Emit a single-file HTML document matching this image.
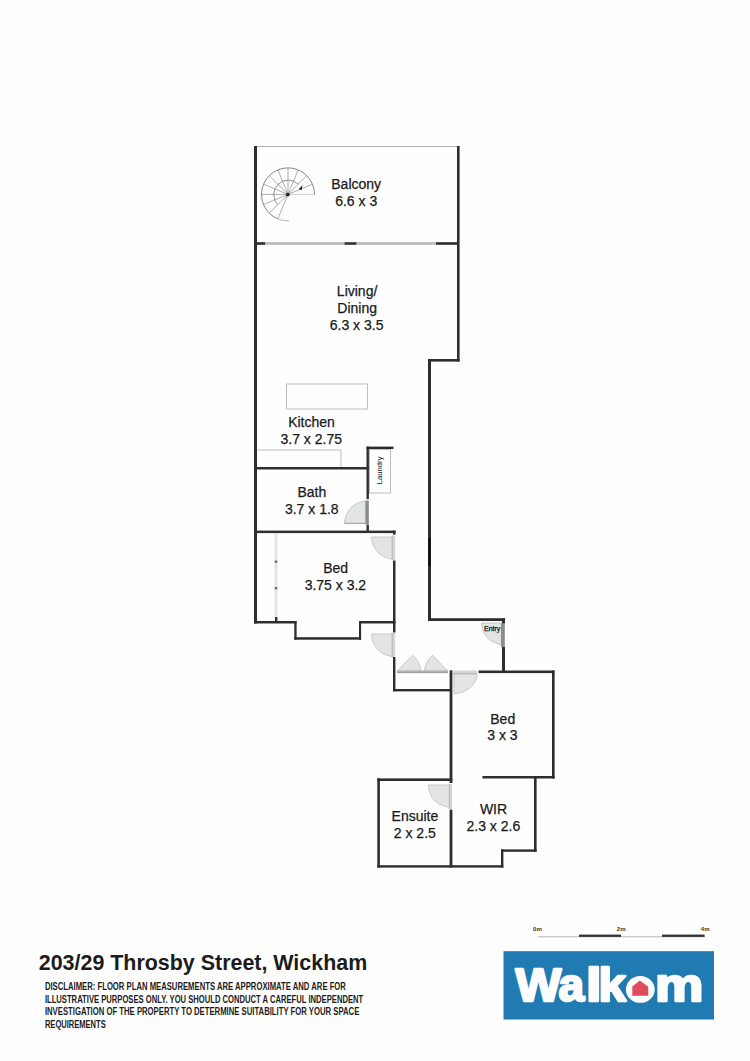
<!DOCTYPE html>
<html><head><meta charset="utf-8"><title>Floor plan</title>
<style>
html,body{margin:0;padding:0;background:#fefefe;}
body{width:750px;height:1061px;overflow:hidden;position:relative;font-family:"Liberation Sans",sans-serif;}
svg{position:absolute;left:0;top:0;}
</style></head><body>
<svg width="750" height="1061" viewBox="0 0 750 1061" font-family="Liberation Sans, sans-serif">
<!-- thin outlines / fixtures -->
<g fill="none" stroke="#bdbdbd" stroke-width="1">
  <line x1="254" y1="146.5" x2="459" y2="146.5" stroke="#b0b0b0"/>
  <rect x="286.5" y="384" width="81" height="25"/>
  <polyline points="257,450 341,450 341,467"/>
  <rect x="369.5" y="449.5" width="21" height="43.5"/>
</g>
<!-- sliding door strips -->
<g fill="#b9b9b9">
  <rect x="265" y="242.2" width="79.5" height="2.6"/>
  <rect x="356.5" y="242.2" width="79.5" height="2.6"/>
  <rect x="274.6" y="534" width="3" height="83" fill="#e4e4e4"/>
  <rect x="274.8" y="560.5" width="2.4" height="2.4" fill="#6a6a6a"/>
  <rect x="274.8" y="587" width="2.4" height="2.4" fill="#6a6a6a"/>
</g>
<!-- spiral stair -->
<g fill="none" stroke="#8a8a8a" stroke-width="0.7">
<line x1="288" y1="194.4" x2="314.50" y2="194.40" stroke="#bbb"/>
<line x1="288" y1="194.4" x2="312.48" y2="184.26"/>
<line x1="288" y1="194.4" x2="306.74" y2="175.66"/>
<line x1="288" y1="194.4" x2="298.14" y2="169.92"/>
<line x1="288" y1="194.4" x2="288.00" y2="167.90"/>
<line x1="288" y1="194.4" x2="277.86" y2="169.92"/>
<line x1="288" y1="194.4" x2="269.26" y2="175.66"/>
<line x1="288" y1="194.4" x2="263.52" y2="184.26"/>
<line x1="288" y1="194.4" x2="261.50" y2="194.40"/>
<line x1="288" y1="194.4" x2="263.52" y2="204.54"/>
<line x1="288" y1="194.4" x2="269.26" y2="213.14"/>
<line x1="288" y1="194.4" x2="277.86" y2="218.88"/>
<path d="M314.5,194.4 A26.5 26.5 0 1 0 277.86,218.88" stroke="#777" stroke-width="0.9"/>
<path d="M277.86,218.88 A26.5 26.5 0 0 0 289,220.9" stroke="#b0b0b0" stroke-width="0.9"/>
<path d="M298.25,184.15 A14.5 14.5 0 0 0 277.75,204.65" stroke="#666"/>
</g>
<circle cx="287.8" cy="194.6" r="1.9" fill="#222"/>
<path d="M298.6,189.2 L302.6,184.9 L301.6,189.9 Z" fill="#222"/>
<!-- doors -->
<g fill="#e3e5e5" stroke="#b8b8b8" stroke-width="0.7">
  <path d="M367,523.5 L367,501 A22.5 22.5 0 0 0 344.5,523.5 Z"/>
  <path d="M393.5,537 L371.5,537 A22 22 0 0 0 393.5,559 Z"/>
  <path d="M393.5,634 L371.5,634 A22.5 22.5 0 0 0 393.5,656.5 Z"/>
  <path d="M503,623 L481.5,623 A21.5 21.5 0 0 0 503,644.5 Z"/>
  <path d="M454,674 L477,674 A23 19.5 0 0 1 454,693.5 Z"/>
  <path d="M450.5,785 L428.3,785 A22.2 22.2 0 0 0 450.5,807.2 Z"/>
  <path d="M397,671.2 L412.8,655.3 A23 23 0 0 1 421,671.2 Z"/>
  <path d="M448,671.2 L432.6,655.3 A23 23 0 0 0 424.4,671.2 Z"/>
</g>
<g fill="#d6d6d6">
  <rect x="365.4" y="500.6" width="3.4" height="24.2" fill="#8a8a8a"/>
  <rect x="391.4" y="535.5" width="3.8" height="24.5"/>
  <rect x="391.4" y="633" width="3.8" height="24.5"/>
  <rect x="501" y="623" width="3.8" height="24" fill="#8c8c8c"/>
  <rect x="453.3" y="670.5" width="23.7" height="3.6"/>
  <rect x="448.6" y="784" width="3.5" height="25"/>
  <rect x="397" y="670.4" width="51" height="2.6" fill="#b3b3b3"/>
</g>
<g fill="#b4b4b4">
  <rect x="391.8" y="535.5" width="0.9" height="24.5"/>
  <rect x="391.8" y="633" width="0.9" height="24.5"/>
  <rect x="453.3" y="673.2" width="23.7" height="0.9"/>
  <rect x="449" y="784" width="0.9" height="25"/>
  <rect x="397" y="672.2" width="51" height="0.9" fill="#999"/>
  <rect x="344.5" y="522.8" width="21" height="1.2" fill="#a8a8a8"/>
</g>
<!-- labels -->
<g font-size="14" fill="#1a1a1a" stroke="#1a1a1a" stroke-width="0.25" text-anchor="middle">
  <text x="356.2" y="188.8">Balcony</text>
  <text x="356.2" y="205.5">6.6 x 3</text>
  <text x="357.1" y="295.8">Living/</text>
  <text x="357.2" y="312.7">Dining</text>
  <text x="356.6" y="329.5">6.3 x 3.5</text>
  <text x="311.5" y="427">Kitchen</text>
  <text x="311.25" y="443.5">3.7 x 2.75</text>
  <text x="311.9" y="497">Bath</text>
  <text x="311.75" y="513.5">3.7 x 1.8</text>
  <text x="335.65" y="573">Bed</text>
  <text x="335.4" y="589.8">3.75 x 3.2</text>
  <text x="502.75" y="723.7">Bed</text>
  <text x="502.4" y="740.3">3 x 3</text>
  <text x="493.5" y="814">WIR</text>
  <text x="493.35" y="830.8">2.3 x 2.6</text>
  <text x="414.9" y="820.7">Ensuite</text>
  <text x="414.8" y="837.7">2 x 2.5</text>
</g>
<text x="0" y="0" font-size="7.7" fill="#1a1a1a" text-anchor="middle" transform="translate(381.7,470.4) rotate(-90)">Laundry</text>
<text x="492.2" y="630.5" font-size="7" fill="#111" stroke="#111" stroke-width="0.25" text-anchor="middle">Entry</text>
<!-- walls -->
<g fill="#2e2e2e">
  <!-- balcony / living outer -->
  <rect x="254" y="146" width="3" height="477.5"/>
  <rect x="457" y="146" width="2.6" height="215.5"/>
  <rect x="257" y="242.2" width="8" height="2.6"/>
  <rect x="344.5" y="242.2" width="12" height="2.6"/>
  <rect x="436" y="242.2" width="21" height="2.6"/>
  <rect x="428" y="359" width="31.6" height="2.6"/>
  <rect x="428" y="359" width="3" height="262"/>
  <rect x="428" y="538" width="3" height="28" fill="#151515"/>
  <!-- entry -->
  <rect x="428" y="618.2" width="77" height="2.8"/>
  <rect x="502" y="618.2" width="3" height="5"/>
  <rect x="502" y="647" width="3" height="26"/>
  <!-- bed 3x3 -->
  <rect x="478.5" y="670.5" width="76" height="2.6"/>
  <rect x="552" y="670.5" width="2.6" height="108"/>
  <rect x="482.4" y="776" width="72.2" height="2.5"/>
  <!-- WIR -->
  <rect x="534" y="776" width="2.6" height="75.7"/>
  <rect x="501" y="849.4" width="35.6" height="2.4"/>
  <rect x="501" y="849.4" width="2.4" height="18.2"/>
  <!-- ensuite -->
  <rect x="377.3" y="865.2" width="126" height="2.4"/>
  <rect x="377.3" y="778.4" width="2.6" height="89.2"/>
  <rect x="377.3" y="778.4" width="75" height="2.6"/>
  <rect x="449.6" y="670.3" width="2.8" height="112.7"/>
  <rect x="449.6" y="809.6" width="2.8" height="58"/>
  <!-- closet -->
  <rect x="393" y="657" width="2.4" height="34.3"/>
  <rect x="393" y="689" width="59" height="2.4"/>
  <!-- corridor left wall -->
  <rect x="393" y="530.6" width="2.5" height="4"/>
  <rect x="393" y="560.5" width="2.5" height="72"/>
  <!-- bed 3.75 -->
  <rect x="254" y="530.6" width="141.5" height="2.5"/>
  <rect x="254" y="621" width="42.5" height="2.5"/>
  <rect x="359" y="621" width="36.5" height="2.5"/>
  <rect x="294.3" y="621" width="2.3" height="18.7"/>
  <rect x="359" y="621" width="2.1" height="18.7"/>
  <rect x="294.3" y="637.2" width="66.8" height="2.5"/>
  <rect x="275" y="617" width="2.4" height="5"/>
  <!-- bath / laundry -->
  <rect x="254" y="467" width="115" height="2.5"/>
  <rect x="366.5" y="446.6" width="27" height="2.4"/>
  <rect x="366.5" y="446.6" width="2.4" height="52.6"/>
  <rect x="366.5" y="525" width="2.4" height="7"/>
</g>
<!-- title + disclaimer -->
<text x="38.8" y="970" font-size="21.3" font-weight="bold" fill="#1c1c1c" textLength="328.4" lengthAdjust="spacingAndGlyphs">203/29 Throsby Street, Wickham</text>
<g font-size="10.4" font-weight="bold" fill="#1c1c1c">
  <text x="44.9" y="989.8" textLength="301" lengthAdjust="spacingAndGlyphs">DISCLAIMER: FLOOR PLAN MEASUREMENTS ARE APPROXIMATE AND ARE FOR</text>
  <text x="44.9" y="1002.5" textLength="318.3" lengthAdjust="spacingAndGlyphs">ILLUSTRATIVE PURPOSES ONLY. YOU SHOULD CONDUCT A CAREFUL INDEPENDENT</text>
  <text x="44.9" y="1015.1" textLength="314.4" lengthAdjust="spacingAndGlyphs">INVESTIGATION OF THE PROPERTY TO DETERMINE SUITABILITY FOR YOUR SPACE</text>
  <text x="44.9" y="1027.7" textLength="60.8" lengthAdjust="spacingAndGlyphs">REQUIREMENTS</text>
</g>
<!-- scale bar -->
<g font-size="6" font-weight="bold" fill="#333">
  <text x="533.1" y="930.6">0m</text>
  <text x="616.8" y="930.6">2m</text>
  <text x="700.8" y="930.6">4m</text>
</g>
<rect x="538" y="936.3" width="167" height="1" fill="#b5b5b5"/>
<rect x="579" y="934.6" width="42" height="2.3" fill="#333"/>
<rect x="662" y="934.6" width="42.6" height="2.3" fill="#333"/>
<!-- logo -->
<rect x="503.5" y="951.2" width="210.5" height="68.3" fill="#1f7bb1"/>
<g font-size="47" font-weight="bold" fill="#fdfdfd" stroke="#fdfdfd" stroke-width="2.4" stroke-linejoin="round">
  <text transform="translate(515.5,1001) scale(1.03,1)">W</text>
  <text transform="translate(558.5,1001) scale(0.98,1)">a</text>
  <text transform="translate(586,1001) scale(1.2,1)">l</text>
  <text transform="translate(598.5,1001) scale(1.05,1)">k</text>
  <text transform="translate(655,1001) scale(1.16,1)">m</text>
</g>
<ellipse cx="640.3" cy="989.4" rx="14.4" ry="13.4" fill="#fdfdfd"/>
<path d="M632.3,986.5 L639.9,980.4 L648.2,986.8 L648.2,995.8 L632.3,995.8 Z" fill="#e04a5c"/>
</svg>
</body></html>
